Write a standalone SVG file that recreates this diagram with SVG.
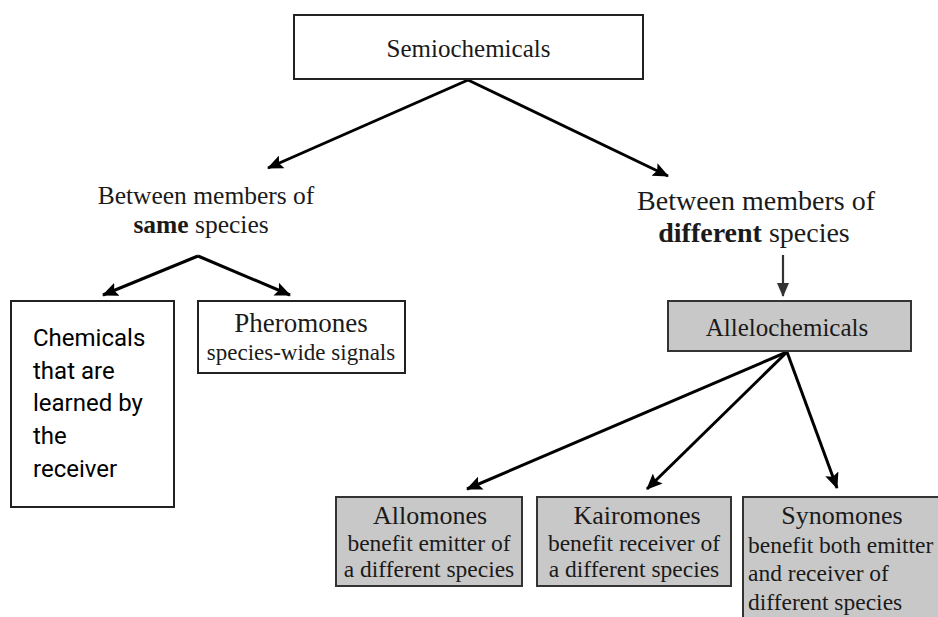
<svg xmlns="http://www.w3.org/2000/svg" width="938" height="617" viewBox="0 0 938 617">
<style>
.serif{font-family:"Liberation Serif","Times New Roman",serif;fill:#1a1a1a}
.sans{font-family:Roboto,"Liberation Sans",Arial,sans-serif;fill:#000;font-size:24px}
.box{fill:#fff;stroke:#222;stroke-width:2}
.gbox{fill:#c8c8c8;stroke:#333;stroke-width:2}
.conn{stroke:#000;stroke-width:3;fill:none;marker-end:url(#ah)}
.conn2{stroke:#333;stroke-width:2.2;fill:none;marker-end:url(#ah2)}
.t26{font-size:26px}
.t23{font-size:23.5px}
</style>
<defs>
<marker id="ah" markerUnits="userSpaceOnUse" markerWidth="16" markerHeight="14" refX="15" refY="7" orient="auto">
<path d="M0,0 L16,7 L0,14 L3,7 z" fill="#000"/>
</marker>
<marker id="ah2" markerUnits="userSpaceOnUse" markerWidth="14" markerHeight="12" refX="13" refY="6" orient="auto">
<path d="M0,0 L14,6 L0,12 z" fill="#333"/>
</marker>
</defs>

<g id="connectors">
<line class="conn" x1="468" y1="80" x2="268" y2="168"/>
<line class="conn" x1="468" y1="80" x2="668" y2="176"/>
<line class="conn" x1="198" y1="256" x2="103" y2="295"/>
<line class="conn" x1="198" y1="256" x2="290" y2="295"/>
<line class="conn2" x1="783" y1="255" x2="783" y2="296"/>
<line class="conn" x1="787" y1="352" x2="467" y2="489"/>
<line class="conn" x1="787" y1="352" x2="647" y2="489"/>
<line class="conn" x1="787" y1="352" x2="837" y2="488"/>
</g>

<g id="semiochemicals">
<rect class="box" x="294" y="15" width="349" height="64"/>
<text class="serif" x="468.5" y="57" text-anchor="middle" font-size="25">Semiochemicals</text>
</g>

<g id="same-species">
<text class="serif" x="206" y="204" text-anchor="middle" font-size="25.5">Between members of</text>
<text class="serif" x="201" y="233" text-anchor="middle" font-size="25.5"><tspan font-weight="bold">same</tspan> species</text>
</g>

<g id="different-species">
<text class="serif" x="756" y="210" text-anchor="middle" font-size="28">Between members of</text>
<text class="serif" x="754" y="242" text-anchor="middle" font-size="28"><tspan font-weight="bold">different</tspan> species</text>
</g>

<g id="learned-chemicals">
<rect class="box" x="11" y="301" width="163" height="206"/>
<text class="sans" x="33" y="346">Chemicals</text>
<text class="sans" x="33" y="379">that are</text>
<text class="sans" x="33" y="411">learned by</text>
<text class="sans" x="33" y="444">the</text>
<text class="sans" x="33" y="477">receiver</text>
</g>

<g id="pheromones">
<rect class="box" x="198" y="301" width="207" height="72"/>
<text class="serif" x="301" y="332" text-anchor="middle" font-size="27">Pheromones</text>
<text class="serif" x="301" y="360" text-anchor="middle" font-size="23">species-wide signals</text>
</g>

<g id="allelochemicals">
<rect class="gbox" x="668" y="301" width="243" height="50"/>
<text class="serif" x="787" y="336" text-anchor="middle" font-size="25">Allelochemicals</text>
</g>

<g id="allomones">
<rect class="gbox" x="336" y="497" width="186" height="89"/>
<text class="serif t26" x="430" y="524" text-anchor="middle">Allomones</text>
<text class="serif t23" x="429" y="551" text-anchor="middle">benefit emitter of</text>
<text class="serif t23" x="429" y="577" text-anchor="middle">a different species</text>
</g>

<g id="kairomones">
<rect class="gbox" x="537" y="497" width="194" height="89"/>
<text class="serif t26" x="637" y="524" text-anchor="middle">Kairomones</text>
<text class="serif t23" x="634" y="551" text-anchor="middle">benefit receiver of</text>
<text class="serif t23" x="634" y="577" text-anchor="middle">a different species</text>
</g>

<g id="synomones">
<rect class="gbox" x="743" y="497" width="200" height="130"/>
<text class="serif t26" x="842" y="524" text-anchor="middle">Synomones</text>
<text class="serif t23" x="748" y="553">benefit both emitter</text>
<text class="serif t23" x="748" y="581">and receiver of</text>
<text class="serif t23" x="748" y="610">different species</text>
</g>
</svg>
